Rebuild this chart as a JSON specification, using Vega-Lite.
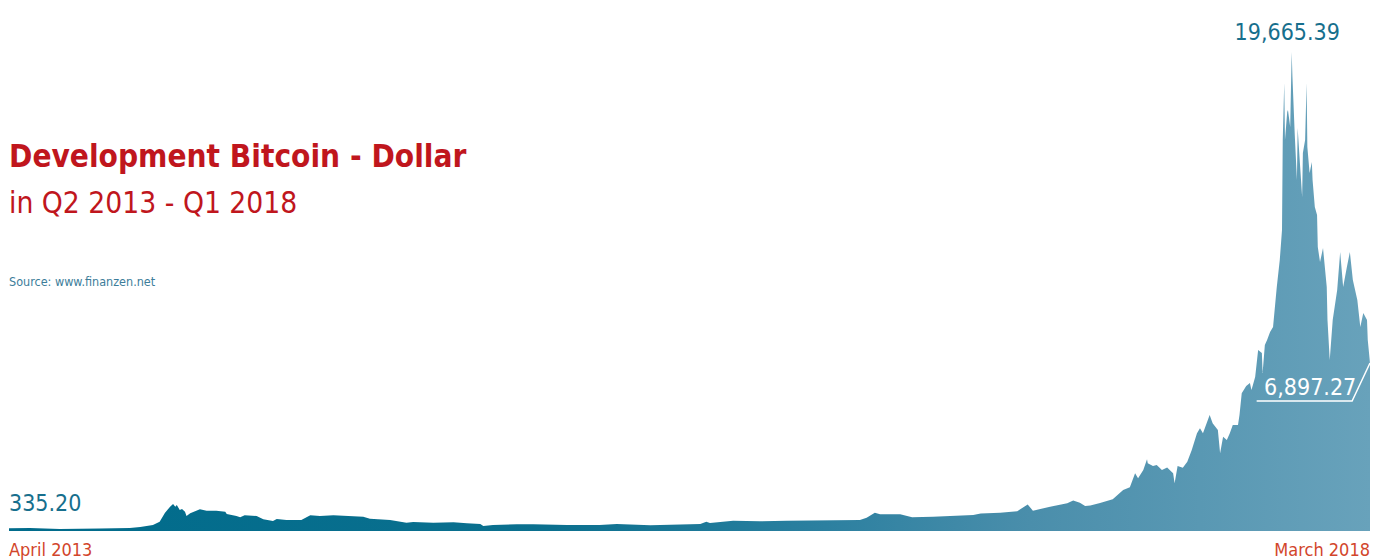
{
  "$schema": "https://vega.github.io/schema/vega-lite/v6.json",
  "width": 1361,
  "height": 479,
  "autosize": {"type": "none"},
  "padding": {"left": 9, "top": 52, "right": 12, "bottom": 29},
  "background": "white",
  "config": {"view": {"stroke": null}},
  "layer": [
    {
      "data": {"values": [
        {"date":"2013-04-01","price":111},{"date":"2013-04-29","price":123},{"date":"2013-06-08","price":82},{"date":"2013-08-01","price":103},
        {"date":"2013-09-10","price":123},{"date":"2013-09-24","price":164},{"date":"2013-10-11","price":246},{"date":"2013-10-20","price":382},
        {"date":"2013-10-27","price":739},{"date":"2013-11-03","price":998},{"date":"2013-11-07","price":1108},{"date":"2013-11-10","price":998},
        {"date":"2013-11-12","price":1067},{"date":"2013-11-16","price":862},{"date":"2013-11-19","price":903},{"date":"2013-11-23","price":792},
        {"date":"2013-11-25","price":616},{"date":"2013-11-30","price":727},{"date":"2013-12-13","price":891},{"date":"2013-12-22","price":833},
        {"date":"2014-01-04","price":833},{"date":"2014-01-16","price":792},{"date":"2014-01-18","price":698},{"date":"2014-01-31","price":616},
        {"date":"2014-02-05","price":562},{"date":"2014-02-11","price":644},{"date":"2014-02-27","price":616},{"date":"2014-03-08","price":480},
        {"date":"2014-03-21","price":411},{"date":"2014-03-26","price":493},{"date":"2014-04-08","price":452},{"date":"2014-04-28","price":452},
        {"date":"2014-05-10","price":644},{"date":"2014-05-23","price":616},{"date":"2014-06-10","price":644},{"date":"2014-07-20","price":587},
        {"date":"2014-07-29","price":505},{"date":"2014-08-25","price":452},{"date":"2014-09-16","price":341},{"date":"2014-09-25","price":369},
        {"date":"2014-10-22","price":341},{"date":"2014-11-18","price":357},{"date":"2014-12-06","price":316},{"date":"2014-12-24","price":287},
        {"date":"2014-12-28","price":205},{"date":"2015-01-10","price":246},{"date":"2015-02-11","price":275},{"date":"2015-03-05","price":275},
        {"date":"2015-04-19","price":246},{"date":"2015-06-02","price":246},{"date":"2015-06-25","price":287},{"date":"2015-08-09","price":234},
        {"date":"2015-10-15","price":287},{"date":"2015-10-23","price":382},{"date":"2015-10-28","price":328},{"date":"2015-11-28","price":423},
        {"date":"2016-01-03","price":398},{"date":"2016-02-08","price":423},{"date":"2016-05-16","price":452},{"date":"2016-05-25","price":546},
        {"date":"2016-06-05","price":751},{"date":"2016-06-12","price":686},{"date":"2016-07-09","price":686},{"date":"2016-07-25","price":562},
        {"date":"2016-08-22","price":587},{"date":"2016-10-15","price":657},{"date":"2016-10-25","price":722},{"date":"2016-11-20","price":751},{"date":"2016-12-13","price":809},
        {"date":"2016-12-17","price":891},{"date":"2016-12-27","price":1088},{"date":"2017-01-03","price":833},{"date":"2017-01-26","price":998},
        {"date":"2017-02-18","price":1137},{"date":"2017-02-26","price":1252},{"date":"2017-03-07","price":1162},{"date":"2017-03-14","price":1026},
        {"date":"2017-03-21","price":1047},{"date":"2017-04-03","price":1149},{"date":"2017-04-20","price":1301},{"date":"2017-05-04","price":1683},
        {"date":"2017-05-13","price":1794},{"date":"2017-05-20","price":2369},{"date":"2017-05-24","price":2163},{"date":"2017-05-31","price":2504},{"date":"2017-06-05","price":2943},
        {"date":"2017-06-06","price":2779},{"date":"2017-06-13","price":2668},{"date":"2017-06-18","price":2709},{"date":"2017-06-25","price":2504},{"date":"2017-07-02","price":2604},
        {"date":"2017-07-10","price":2369},{"date":"2017-07-12","price":1958},{"date":"2017-07-16","price":2668},{"date":"2017-07-23","price":2600},{"date":"2017-07-29","price":2845},
        {"date":"2017-08-04","price":3325},{"date":"2017-08-11","price":4011},{"date":"2017-08-15","price":4216},{"date":"2017-08-19","price":4011},
        {"date":"2017-08-28","price":4762},{"date":"2017-09-01","price":4421},{"date":"2017-09-08","price":4146},{"date":"2017-09-11","price":3190},
        {"date":"2017-09-15","price":3871},{"date":"2017-09-20","price":3736},{"date":"2017-09-24","price":4011},{"date":"2017-09-28","price":4351},{"date":"2017-10-05","price":4351},
        {"date":"2017-10-07","price":4762},{"date":"2017-10-10","price":5653},{"date":"2017-10-16","price":5952},{"date":"2017-10-21","price":6075},{"date":"2017-10-23","price":5788},{"date":"2017-10-25","price":5993},
        {"date":"2017-10-28","price":6322},{"date":"2017-11-01","price":7430},{"date":"2017-11-06","price":7307},{"date":"2017-11-07","price":6486},
        {"date":"2017-11-10","price":7635},{"date":"2017-11-13","price":7841},{"date":"2017-11-17","price":8169},{"date":"2017-11-21","price":8374},
        {"date":"2017-11-26","price":10016},{"date":"2017-11-30","price":11125},{"date":"2017-12-03","price":12356},{"date":"2017-12-04","price":16051},
        {"date":"2017-12-06","price":18390},{"date":"2017-12-07","price":16051},{"date":"2017-12-10","price":17200},{"date":"2017-12-11","price":17282},
        {"date":"2017-12-14","price":16584},{"date":"2017-12-16","price":19665.39},{"date":"2017-12-17","price":18637},{"date":"2017-12-20","price":16338},
        {"date":"2017-12-23","price":14409},{"date":"2017-12-24","price":16543},{"date":"2017-12-27","price":15106},{"date":"2017-12-30","price":13711},
        {"date":"2017-12-31","price":15517},{"date":"2018-01-03","price":16051},{"date":"2018-01-05","price":18390},{"date":"2018-01-06","price":15763},
        {"date":"2018-01-09","price":14696},{"date":"2018-01-12","price":15147},{"date":"2018-01-13","price":14409},{"date":"2018-01-16","price":13300},
        {"date":"2018-01-19","price":12972},{"date":"2018-01-20","price":11658},{"date":"2018-01-23","price":11042},{"date":"2018-01-27","price":11617},
        {"date":"2018-02-01","price":10016},{"date":"2018-02-02","price":8662},{"date":"2018-02-05","price":7020},{"date":"2018-02-09","price":8662},
        {"date":"2018-02-15","price":9893},{"date":"2018-02-19","price":11453},{"date":"2018-02-23","price":10016},{"date":"2018-02-28","price":10837},
        {"date":"2018-03-04","price":11453},{"date":"2018-03-08","price":10304},{"date":"2018-03-14","price":9483},{"date":"2018-03-18","price":8374},
        {"date":"2018-03-22","price":8949},{"date":"2018-03-27","price":8662},{"date":"2018-03-28","price":7841},{"date":"2018-03-31","price":6897.27}
      ]},
      "mark": {
        "type": "area",
        "color": {
          "gradient": "linear", "x1": 0, "y1": 0, "x2": 1, "y2": 0,
          "stops": [
            {"offset": 0, "color": "#006b8b"},
            {"offset": 0.4, "color": "#0b708f"},
            {"offset": 0.6, "color": "#2c80a0"},
            {"offset": 0.75, "color": "#4a8eab"},
            {"offset": 1, "color": "#68a2bb"}
          ]
        }
      },
      "encoding": {
        "x": {"field": "date", "type": "temporal", "axis": null,
              "scale": {"domain": [{"year": 2013, "month": 4, "date": 1, "utc": true}, {"year": 2018, "month": 3, "date": 31, "utc": true}]}},
        "y": {"field": "price", "type": "quantitative", "axis": null,
              "scale": {"domain": [0, 19665.39], "nice": false, "zero": true}}
      }
    },
    {
      "data": {"values": [
        {"date": "2017-10-30", "price": 5337},
        {"date": "2018-03-07", "price": 5337},
        {"date": "2018-03-31", "price": 6897.27}
      ]},
      "mark": {"type": "line", "color": "white", "strokeWidth": 1.5},
      "encoding": {
        "x": {"field": "date", "type": "temporal"},
        "y": {"field": "price", "type": "quantitative"}
      }
    },
    {
      "data": {"values": [
        {"date": "2013-04-01", "price": 14942, "label": "Development Bitcoin - Dollar"}
      ]},
      "mark": {"type": "text", "align": "left", "baseline": "alphabetic",
               "font": "DejaVu Sans Condensed, sans-serif", "fontWeight": "bold", "fontSize": 31.3, "color": "#c0161d"},
      "encoding": {
        "x": {"field": "date", "type": "temporal"},
        "y": {"field": "price", "type": "quantitative"},
        "text": {"field": "label"}
      }
    },
    {
      "data": {"values": [
        {"date": "2013-04-01", "price": 13054, "label": "in Q2 2013 - Q1 2018"}
      ]},
      "mark": {"type": "text", "align": "left", "baseline": "alphabetic",
               "font": "DejaVu Sans Condensed, sans-serif", "fontSize": 29.7, "color": "#c0161d"},
      "encoding": {
        "x": {"field": "date", "type": "temporal"},
        "y": {"field": "price", "type": "quantitative"},
        "text": {"field": "label"}
      }
    },
    {
      "data": {"values": [
        {"date": "2013-04-01", "price": 10057, "label": "Source: www.finanzen.net"}
      ]},
      "mark": {"type": "text", "align": "left", "baseline": "alphabetic",
               "font": "DejaVu Sans Condensed, sans-serif", "fontSize": 12.5, "color": "#3c7d9a"},
      "encoding": {
        "x": {"field": "date", "type": "temporal"},
        "y": {"field": "price", "type": "quantitative"},
        "text": {"field": "label"}
      }
    },
    {
      "data": {"values": [
        {"date": "2013-04-01", "price": 821, "label": "335.20", "align": "left"},
        {"date": "2017-12-10", "price": 20156, "label": "19,665.39", "align": "center"}
      ]},
      "mark": {"type": "text", "baseline": "alphabetic",
               "font": "DejaVu Sans Condensed, sans-serif", "fontSize": 23, "color": "#176f8d",
               "align": {"expr": "datum.align"}},
      "encoding": {
        "x": {"field": "date", "type": "temporal"},
        "y": {"field": "price", "type": "quantitative"},
        "text": {"field": "label"}
      }
    },
    {
      "data": {"values": [
        {"date": "2017-11-09", "price": 5583, "label": "6,897.27"}
      ]},
      "mark": {"type": "text", "align": "left", "baseline": "alphabetic",
               "font": "DejaVu Sans Condensed, sans-serif", "fontSize": 23, "color": "white"},
      "encoding": {
        "x": {"field": "date", "type": "temporal"},
        "y": {"field": "price", "type": "quantitative"},
        "text": {"field": "label"}
      }
    },
    {
      "data": {"values": [
        {"date": "2013-04-01", "price": -1026, "label": "April 2013", "align": "left"},
        {"date": "2018-03-31", "price": -1026, "label": "March 2018", "align": "right"}
      ]},
      "mark": {"type": "text", "baseline": "alphabetic",
               "font": "DejaVu Sans Condensed, sans-serif", "fontSize": 18, "color": "#d2452b",
               "align": {"expr": "datum.align"}},
      "encoding": {
        "x": {"field": "date", "type": "temporal"},
        "y": {"field": "price", "type": "quantitative"},
        "text": {"field": "label"}
      }
    }
  ]
}
